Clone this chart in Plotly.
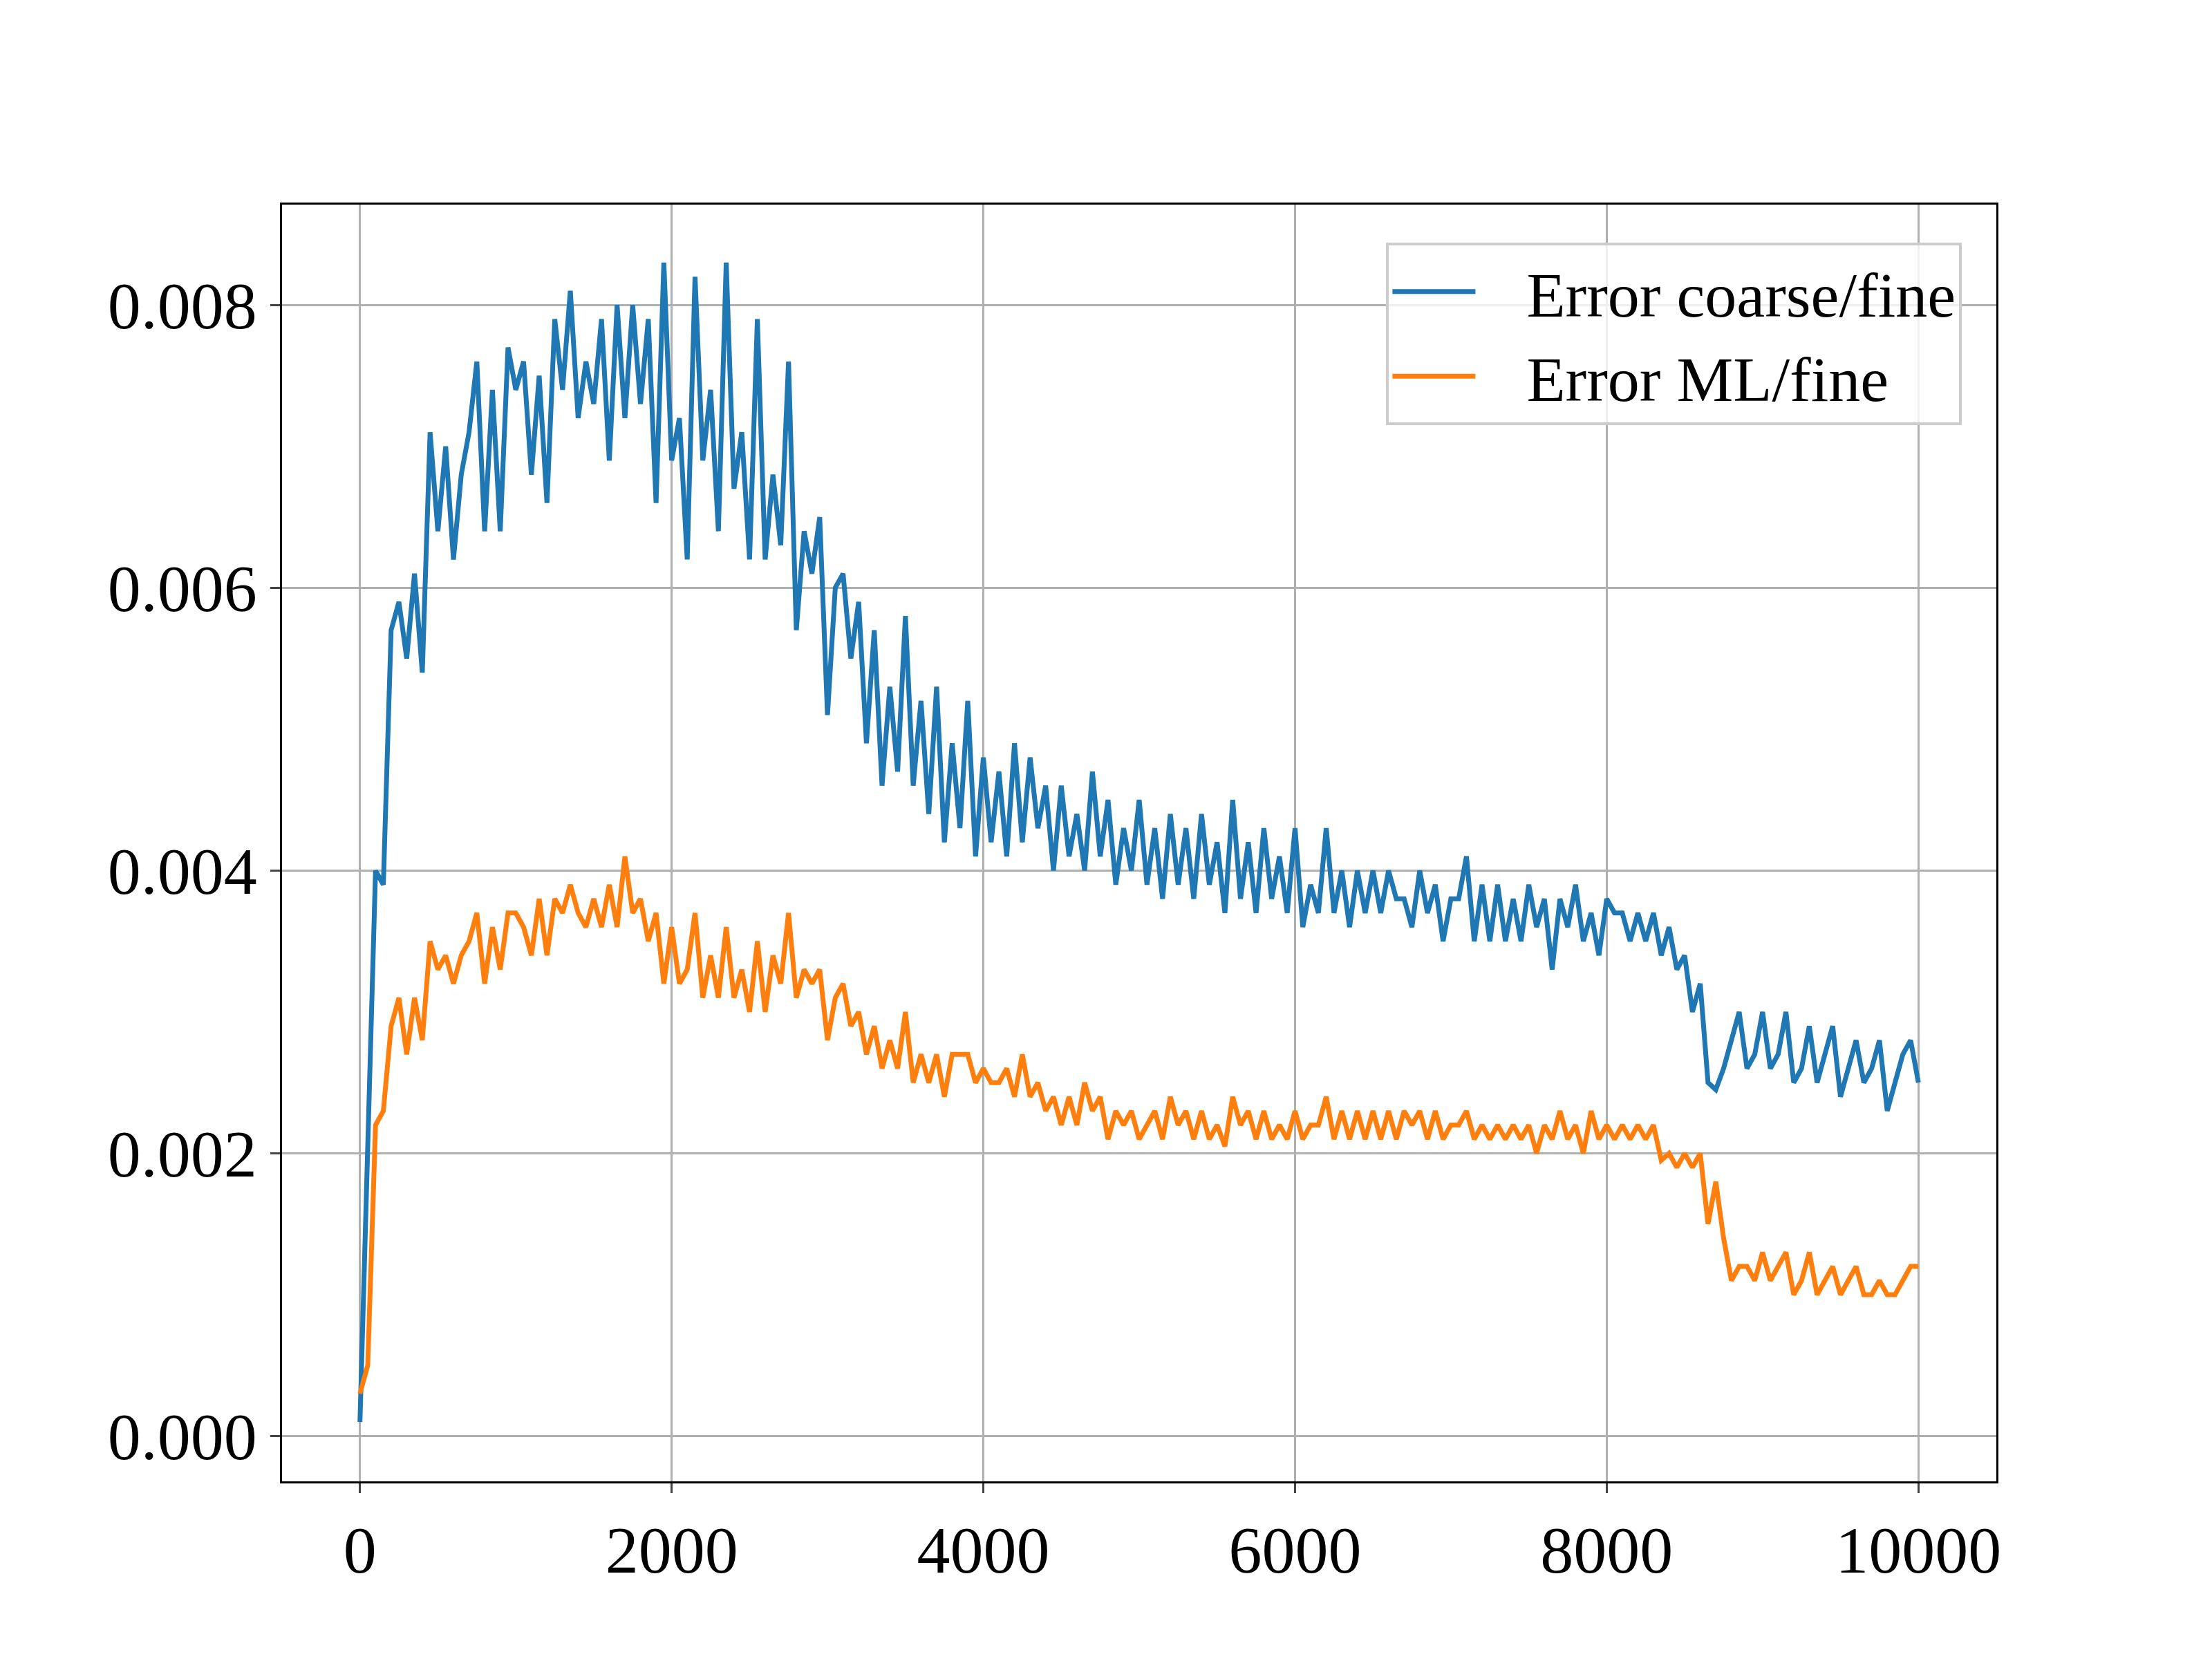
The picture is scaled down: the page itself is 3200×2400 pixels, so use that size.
import plotly.graph_objects as go

# iteraciones cada 50 pasos
steps = list(range(0, 10001, 50))

err_coarse = [
    0.0001, 0.0020, 0.0040, 0.0039, 0.0057, 0.0059, 0.0055, 0.0061, 0.0054, 0.0071,
    0.0064, 0.0070, 0.0062, 0.0068, 0.0071, 0.0076, 0.0064, 0.0074, 0.0064, 0.0077,
    0.0074, 0.0076, 0.0068, 0.0075, 0.0066, 0.0079, 0.0074, 0.0081, 0.0072, 0.0076,
    0.0073, 0.0079, 0.0069, 0.0080, 0.0072, 0.0080, 0.0073, 0.0079, 0.0066, 0.0083,
    0.0069, 0.0072, 0.0062, 0.0082, 0.0069, 0.0074, 0.0064, 0.0083, 0.0067, 0.0071,
    0.0062, 0.0079, 0.0062, 0.0068, 0.0063, 0.0076, 0.0057, 0.0064, 0.0061, 0.0065,
    0.0051, 0.0060, 0.0061, 0.0055, 0.0059, 0.0049, 0.0057, 0.0046, 0.0053, 0.0047,
    0.0058, 0.0046, 0.0052, 0.0044, 0.0053, 0.0042, 0.0049, 0.0043, 0.0052, 0.0041,
    0.0048, 0.0042, 0.0047, 0.0041, 0.0049, 0.0042, 0.0048, 0.0043, 0.0046, 0.0040,
    0.0046, 0.0041, 0.0044, 0.0040, 0.0047, 0.0041, 0.0045, 0.0039, 0.0043, 0.0040,
    0.0045, 0.0039, 0.0043, 0.0038, 0.0044, 0.0039, 0.0043, 0.0038, 0.0044, 0.0039,
    0.0042, 0.0037, 0.0045, 0.0038, 0.0042, 0.0037, 0.0043, 0.0038, 0.0041, 0.0037,
    0.0043, 0.0036, 0.0039, 0.0037, 0.0043, 0.0037, 0.0040, 0.0036, 0.0040, 0.0037,
    0.0040, 0.0037, 0.0040, 0.0038, 0.0038, 0.0036, 0.0040, 0.0037, 0.0039, 0.0035,
    0.0038, 0.0038, 0.0041, 0.0035, 0.0039, 0.0035, 0.0039, 0.0035, 0.0038, 0.0035,
    0.0039, 0.0036, 0.0038, 0.0033, 0.0038, 0.0036, 0.0039, 0.0035, 0.0037, 0.0034,
    0.0038, 0.0037, 0.0037, 0.0035, 0.0037, 0.0035, 0.0037, 0.0034, 0.0036, 0.0033,
    0.0034, 0.0030, 0.0032, 0.0025, 0.00245, 0.0026, 0.0028, 0.0030, 0.0026, 0.0027,
    0.0030, 0.0026, 0.0027, 0.0030, 0.0025, 0.0026, 0.0029, 0.0025, 0.0027, 0.0029,
    0.0024, 0.0026, 0.0028, 0.0025, 0.0026, 0.0028, 0.0023, 0.0025, 0.0027, 0.0028,
    0.0025,
]

err_ml = [
    0.0003, 0.0005, 0.0022, 0.0023, 0.0029, 0.0031, 0.0027, 0.0031, 0.0028, 0.0035,
    0.0033, 0.0034, 0.0032, 0.0034, 0.0035, 0.0037, 0.0032, 0.0036, 0.0033, 0.0037,
    0.0037, 0.0036, 0.0034, 0.0038, 0.0034, 0.0038, 0.0037, 0.0039, 0.0037, 0.0036,
    0.0038, 0.0036, 0.0039, 0.0036, 0.0041, 0.0037, 0.0038, 0.0035, 0.0037, 0.0032,
    0.0036, 0.0032, 0.0033, 0.0037, 0.0031, 0.0034, 0.0031, 0.0036, 0.0031, 0.0033,
    0.0030, 0.0035, 0.0030, 0.0034, 0.0032, 0.0037, 0.0031, 0.0033, 0.0032, 0.0033,
    0.0028, 0.0031, 0.0032, 0.0029, 0.0030, 0.0027, 0.0029, 0.0026, 0.0028, 0.0026,
    0.0030, 0.0025, 0.0027, 0.0025, 0.0027, 0.0024, 0.0027, 0.0027, 0.0027, 0.0025,
    0.0026, 0.0025, 0.0025, 0.0026, 0.0024, 0.0027, 0.0024, 0.0025, 0.0023, 0.0024,
    0.0022, 0.0024, 0.0022, 0.0025, 0.0023, 0.0024, 0.0021, 0.0023, 0.0022, 0.0023,
    0.0021, 0.0022, 0.0023, 0.0021, 0.0024, 0.0022, 0.0023, 0.0021, 0.0023, 0.0021,
    0.0022, 0.00205, 0.0024, 0.0022, 0.0023, 0.0021, 0.0023, 0.0021, 0.0022, 0.0021,
    0.0023, 0.0021, 0.0022, 0.0022, 0.0024, 0.0021, 0.0023, 0.0021, 0.0023, 0.0021,
    0.0023, 0.0021, 0.0023, 0.0021, 0.0023, 0.0022, 0.0023, 0.0021, 0.0023, 0.0021,
    0.0022, 0.0022, 0.0023, 0.0021, 0.0022, 0.0021, 0.0022, 0.0021, 0.0022, 0.0021,
    0.0022, 0.0020, 0.0022, 0.0021, 0.0023, 0.0021, 0.0022, 0.0020, 0.0023, 0.0021,
    0.0022, 0.0021, 0.0022, 0.0021, 0.0022, 0.0021, 0.0022, 0.00195, 0.0020, 0.0019,
    0.0020, 0.0019, 0.0020, 0.0015, 0.0018, 0.0014, 0.0011, 0.0012, 0.0012, 0.0011,
    0.0013, 0.0011, 0.0012, 0.0013, 0.0010, 0.0011, 0.0013, 0.0010, 0.0011, 0.0012,
    0.0010, 0.0011, 0.0012, 0.0010, 0.0010, 0.0011, 0.0010, 0.0010, 0.0011, 0.0012,
    0.0012,
]

x_ticks = [0, 2000, 4000, 6000, 8000, 10000]
x_labels = ["0", "2000", "4000", "6000", "8000", "10000"]
y_ticks = [0, 0.002, 0.004, 0.006, 0.008]
y_labels = ["0.000", "0.002", "0.004", "0.006", "0.008"]

fig = go.Figure()
fig.add_trace(go.Scatter(x=steps, y=err_coarse, mode="lines", name="   Error coarse/fine",
                         line=dict(color="#1f77b4", width=7)))
fig.add_trace(go.Scatter(x=steps, y=err_ml, mode="lines", name="   Error ML/fine",
                         line=dict(color="#ff7f0e", width=7)))

ejes = dict(showline=True, linecolor="black", linewidth=3, mirror=True,
            showgrid=True, gridcolor="#b0b0b0", gridwidth=3,
            ticks="outside", ticklen=14, tickwidth=3, zeroline=False)

fig.update_xaxes(range=[-500, 10500], tickvals=x_ticks, ticktext=x_labels, **ejes)
fig.update_yaxes(range=[-0.00032, 0.00871], tickvals=y_ticks, ticktext=y_labels, **ejes)

fig.update_layout(
    width=3200, height=2400,
    margin=dict(l=400, r=320, t=288, b=265),
    plot_bgcolor="white", paper_bgcolor="white",
    font=dict(family="Liberation Serif", size=96, color="black"),
    showlegend=True,
    legend=dict(x=0.98, y=0.97, xanchor="right", yanchor="top",
                bgcolor="rgba(255,255,255,0.8)", bordercolor="#cccccc", borderwidth=4,
                itemwidth=120, tracegroupgap=20, font=dict(size=92)),
)

fig.write_html("out.html")
